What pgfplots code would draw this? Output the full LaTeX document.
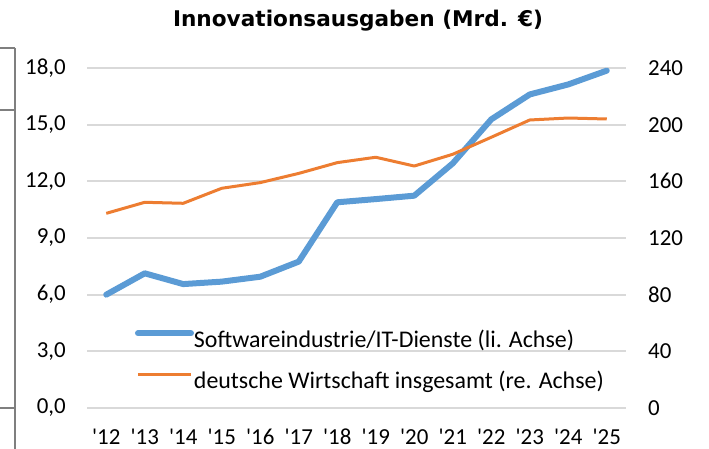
\documentclass[border=0pt]{standalone}
\usepackage{pgfplots}
\pgfplotsset{compat=1.18}
\usepackage{pgfplotstable}
\usepackage{fontspec}
\newfontfamily\lab{Carlito}
\newfontfamily\ttl{DejaVu Sans}
\definecolor{sblue}{HTML}{5B9BD5}
\definecolor{sorange}{HTML}{ED7D31}
\definecolor{gridc}{HTML}{D9D9D9}
\definecolor{bord}{HTML}{7F7F7F}

\pgfplotstableread{
x sw
0 6.0
1 7.13
2 6.56
3 6.69
4 6.95
5 7.75
6 10.89
7 11.06
8 11.24
9 12.95
10 15.28
11 16.60
12 17.13
13 17.86
}\swdata
\pgfplotstableread{
x de
0 137.4
1 145.2
2 144.5
3 155.1
4 159.1
5 165.6
6 173.2
7 177.0
8 170.8
9 179.1
10 191.1
11 203.3
12 204.7
13 204.0
}\dedata

\pgfplotsset{common/.style={
  at={(87bp,41bp)}, anchor=south west, scale only axis,
  width=539bp, height=340bp, xmin=-0.5, xmax=13.5,
  axis line style={draw=none}, tick style={draw=none}, major tick length=0pt,
  clip=false, /pgf/number format/assume math mode=true,
  ticklabel style={font=\lab\fontsize{23}{27}\selectfont, inner sep=0pt}
}}

\begin{document}
\begin{tikzpicture}
\path[use as bounding box] (0,0) rectangle (709bp,449bp);
\draw[bord, line width=2bp] (15bp,401bp) -- (15bp,0bp);
\draw[bord, line width=2bp] (0bp,401bp) -- (15bp,401bp);
\draw[bord, line width=2bp] (0bp,339bp) -- (15bp,339bp);
\draw[bord, line width=2bp] (0bp,41bp) -- (15bp,41bp);
\node[anchor=base, inner sep=0pt, font=\ttl\bfseries\fontsize{21.7}{25}\selectfont] at (358bp,422bp) {Innovationsausgaben (Mrd. €)};

\begin{axis}[common,
  ymin=0, ymax=18, ytick={0,3,...,18},
  ymajorgrids, grid style={gridc, line width=2bp},
  xtick={0,...,13},
  xticklabels={'12,'13,'14,'15,'16,'17,'18,'19,'20,'21,'22,'23,'24,'25},
  xticklabel style={yshift=-21bp},
  yticklabel style={xshift=-21bp, /pgf/number format/.cd, fixed, fixed zerofill, precision=1, use comma}
]
\addplot[sblue, line width=6bp, line cap=round, line join=round] table[x=x,y=sw]{\swdata};
\end{axis}

\begin{axis}[common,
  ymin=0, ymax=240, ytick={0,40,...,240},
  axis y line*=right, hide x axis,
  yticklabel style={xshift=22bp},
  legend style={at={(0.089,0.2294)}, anchor=north west, draw=none, fill=none,
    inner sep=0pt, outer sep=0pt, font=\lab\fontsize{24}{28}\selectfont,
    row sep=19bp, column sep=0bp,
    nodes={inner sep=0pt, outer sep=0pt, text height=17bp, text depth=5bp}},
  legend cell align=left,
  legend image code/.code={\draw[#1] (0bp,7.6bp) -- (53bp,7.6bp);}
]
\addlegendimage{sblue, line width=6bp, line cap=round}
\addlegendentry{Softwareindustrie/IT-Dienste (li. Achse)}
\addplot[sorange, line width=3bp, line join=round] table[x=x,y=de]{\dedata};
\addlegendentry{deutsche Wirtschaft insgesamt (re. Achse)}
\end{axis}
\end{tikzpicture}
\end{document}
